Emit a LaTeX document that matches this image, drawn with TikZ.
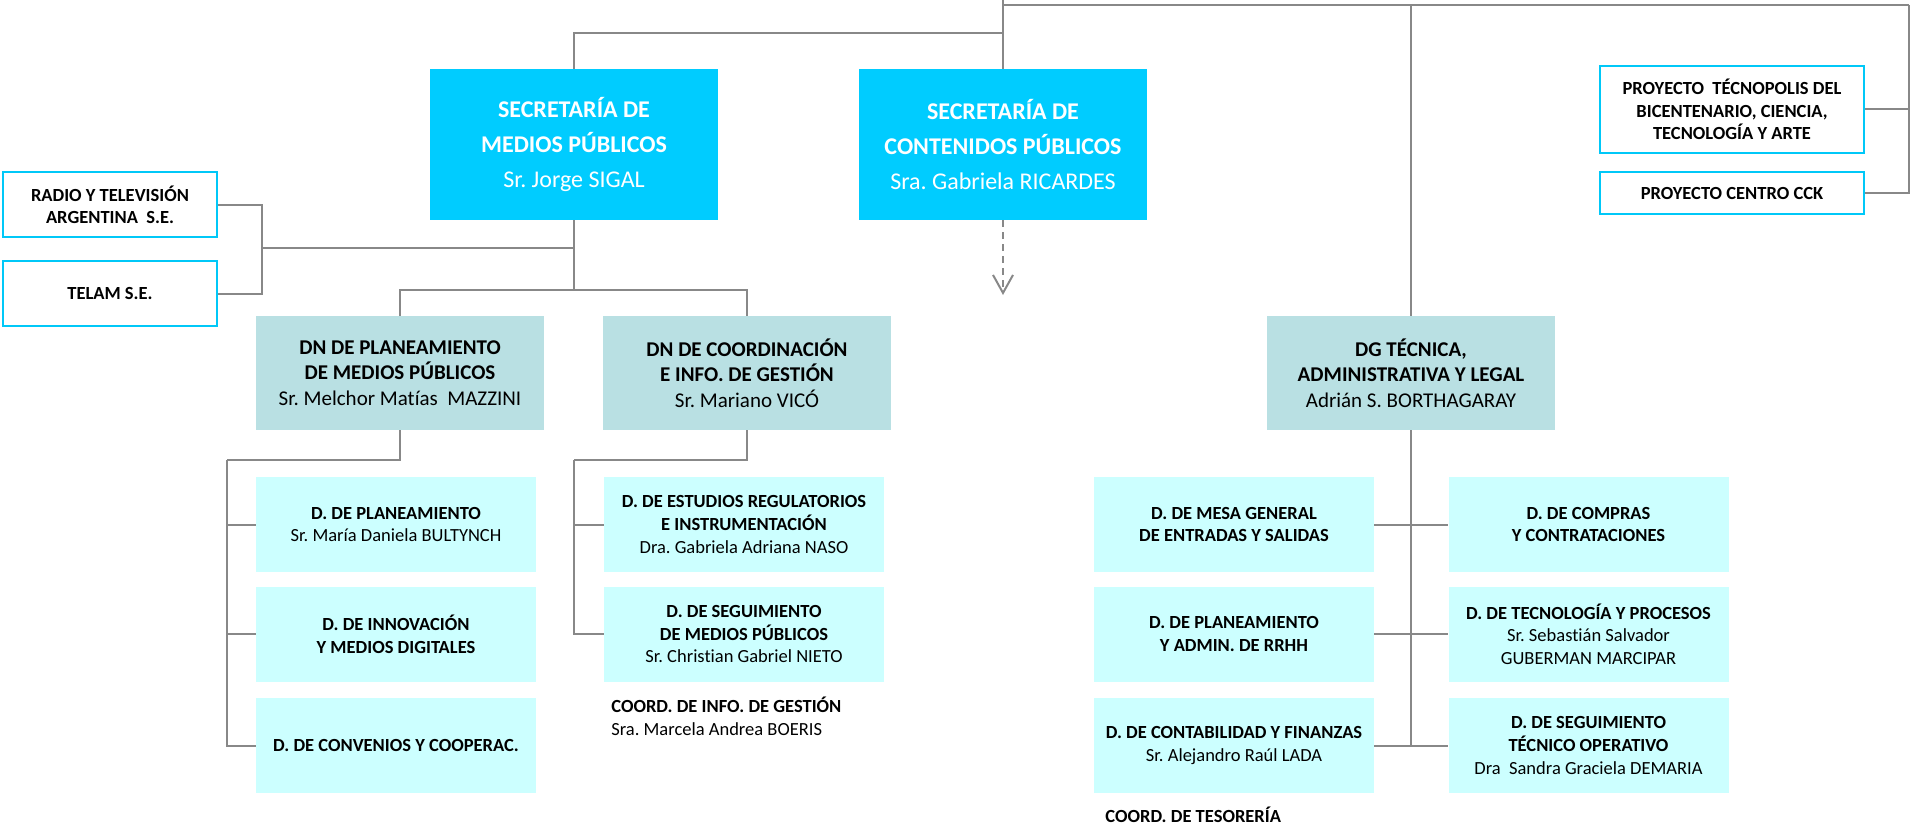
\documentclass[tikz,border=0pt]{standalone}
\usepackage{fontspec}
\setmainfont{Carlito}[Ligatures={NoCommon}]
\frenchspacing
\usetikzlibrary{arrows.meta}
\definecolor{seccyan}{HTML}{00CCFF}
\definecolor{dnteal}{HTML}{B9E0E3}
\definecolor{dcyan}{HTML}{CCFFFF}
\definecolor{bordcyan}{HTML}{00C8F8}
\definecolor{linegray}{HTML}{888888}
\begin{document}
\begin{tikzpicture}[x=0.5pt,y=-0.5pt,
  secbox/.style={fill=seccyan, minimum width=144pt, minimum height=75.5pt, inner sep=0pt,
     text=white, align=center, font=\fontsize{12}{17.3}\selectfont},
  extbox/.style={draw=bordcyan, line width=1pt, fill=white, minimum width=107pt, inner sep=0pt,
     align=center, font=\bfseries\fontsize{9.25}{11.2}\selectfont},
  dnbox/.style={fill=dnteal, minimum width=144pt, minimum height=57pt, inner sep=0pt,
     align=center, font=\fontsize{10.5}{12.75}\selectfont},
  dbox/.style={fill=dcyan, minimum width=140pt, minimum height=47.5pt, inner sep=0pt,
     align=center, font=\fontsize{9.25}{11.3}\selectfont},
  plain/.style={inner sep=0pt, anchor=west, align=left},
  conn/.style={draw=linegray, line width=1pt},
]
\useasboundingbox (0,0) rectangle (1910,824);

% Secretarías
\node[secbox] (sig) at (574,144.5) {\textbf{SECRETARÍA DE}\\\textbf{MEDIOS PÚBLICOS}\\Sr. Jorge SIGAL};
\node[secbox] (ric) at (1003,144.5) {\textbf{SECRETARÍA DE}\\\textbf{CONTENIDOS PÚBLICOS}\\Sra. Gabriela RICARDES};

% External entities
\node[extbox, minimum height=32.5pt] (radio) at (110,204.5) {RADIO Y TELEVISIÓN\\ARGENTINA \ S.E.};
\node[extbox, minimum height=32.5pt] (telam) at (110,293.5) {TELAM S.E.};
\node[extbox, minimum width=132pt, minimum height=43.5pt] (tec) at (1732,109.5) {PROYECTO \ TÉCNOPOLIS DEL\\BICENTENARIO, CIENCIA,\\TECNOLOGÍA Y ARTE};
\node[extbox, minimum width=132pt, minimum height=21pt] (cck) at (1732,193) {PROYECTO CENTRO CCK};

% DN / DG
\node[dnbox] (dnp) at (400,373) {\textbf{DN DE PLANEAMIENTO}\\\textbf{DE MEDIOS PÚBLICOS}\\Sr. Melchor Matías \ MAZZINI};
\node[dnbox] (dnc) at (747,373) {\textbf{DN DE COORDINACIÓN}\\\textbf{E INFO. DE GESTIÓN}\\Sr. Mariano VICÓ};
\node[dnbox] (dg) at (1411,373) {\textbf{DG TÉCNICA,}\\\textbf{ADMINISTRATIVA Y LEGAL}\\Adrián S. BORTHAGARAY};

% Direcciones column 1
\node[dbox] (d1) at (396,524.5) {\textbf{D. DE PLANEAMIENTO}\\Sr. María Daniela BULTYNCH};
\node[dbox] (d2) at (396,634) {\textbf{D. DE INNOVACIÓN}\\\textbf{Y MEDIOS DIGITALES}};
\node[dbox] (d3) at (396,745.5) {\textbf{D. DE CONVENIOS Y COOPERAC.}};
% column 2
\node[dbox] (e1) at (744,524.5) {\textbf{D. DE ESTUDIOS REGULATORIOS}\\\textbf{E INSTRUMENTACIÓN}\\Dra. Gabriela Adriana NASO};
\node[dbox] (e2) at (744,634) {\textbf{D. DE SEGUIMIENTO}\\\textbf{DE MEDIOS PÚBLICOS}\\Sr. Christian Gabriel NIETO};
% column 3
\node[dbox] (f1) at (1234,524.5) {\textbf{D. DE MESA GENERAL}\\\textbf{DE ENTRADAS Y SALIDAS}};
\node[dbox] (f2) at (1234,634) {\textbf{D. DE PLANEAMIENTO}\\\textbf{Y ADMIN. DE RRHH}};
\node[dbox] (f3) at (1234,745.5) {\textbf{D. DE CONTABILIDAD Y FINANZAS}\\Sr. Alejandro Raúl LADA};
% column 4
\node[dbox] (h1) at (1588.5,524.5) {\textbf{D. DE COMPRAS}\\\textbf{Y CONTRATACIONES}};
\node[dbox] (h2) at (1588.5,634) {\textbf{D. DE TECNOLOGÍA Y PROCESOS}\\Sr. Sebastián Salvador\\GUBERMAN MARCIPAR};
\node[dbox] (h3) at (1588.5,745.5) {\textbf{D. DE SEGUIMIENTO}\\\textbf{TÉCNICO OPERATIVO}\\Dra \ Sandra Graciela DEMARIA};

% Coordinaciones (free text)
\node[plain, font=\bfseries\fontsize{9.25}{12}\selectfont] (ci) at (611,705) {COORD. DE INFO. DE GESTIÓN};
\node[plain, font=\fontsize{9.25}{12}\selectfont] (cn) at (611,729) {Sra. Marcela Andrea BOERIS};
\node[plain, font=\bfseries\fontsize{9.25}{12}\selectfont] (ct) at (1105,815) {COORD. DE TESORERÍA};

% Coordinates for connectors
\coordinate (top) at (1003,0);
\coordinate (t0) at (1003,5);
\coordinate (t1) at (1003,33);
\coordinate (rr) at (1909,5);
\coordinate (sb) at (574,290);
\coordinate (sm) at (574,248);
\coordinate (eb) at (262,248);
\coordinate (p2) at (227,460);
\coordinate (q2) at (574,460);
\coordinate (arr) at (1003,295);

% Connectors
\draw[conn] (top) -- (ric.north);
\draw[conn] (sig.north) |- (t1);
\draw[conn] (t0) -- (rr);
\draw[conn] (t0) -| (dg.north);
\draw[conn] (cck.east) -| (rr);
\draw[conn] (tec.east) -- (tec.east -| rr);
\draw[conn] (sig.south) -- (sb);
\draw[conn] (sb) -| (dnp.north);
\draw[conn] (sb) -| (dnc.north);
\draw[conn] (sm) -- (eb);
\draw[conn] (radio.east) -| (eb);
\draw[conn] (telam.east) -| (eb);
\draw[conn] (dnp.south) |- (p2);
\draw[conn] (p2) |- (d3.west);
\draw[conn] (d1.west) -- (d1.west -| p2);
\draw[conn] (d2.west) -- (d2.west -| p2);
\draw[conn] (dnc.south) |- (q2);
\draw[conn] (q2) |- (e2.west);
\draw[conn] (e1.west) -- (e1.west -| q2);
\draw[conn] (dg.south) -- (dg.south |- f3.east);
\draw[conn] (f1.east) -- (h1.west);
\draw[conn] (f2.east) -- (h2.west);
\draw[conn] (f3.east) -- (h3.west);
\draw[conn, dash pattern=on 3.5pt off 2.5pt, -{Straight Barb[length=9pt, width=10pt, line width=1pt]}] (ric.south) -- (arr);
\end{tikzpicture}
\end{document}
